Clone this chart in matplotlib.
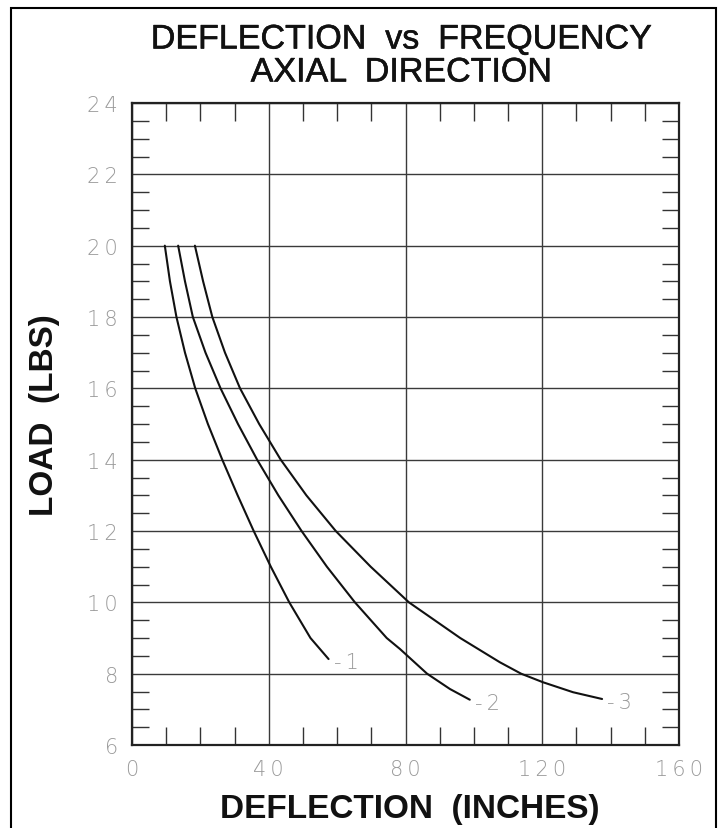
import matplotlib
matplotlib.use("Agg")
import matplotlib.pyplot as plt
import matplotlib.patheffects as pe
from matplotlib.patches import Rectangle
from matplotlib.ticker import MultipleLocator

# Data (deflection in inches, load in lbs)
c1_x = [9.6, 11.1, 13.0, 15.5, 18.5, 22.2, 26.4, 30.9, 35.6, 40.6, 46.0, 52.2, 57.5]
c1_y = [20, 19, 18, 17, 16, 15, 14, 13, 12, 11, 10, 9, 8.41]
c2_x = [13.5, 15.5, 17.8, 21.5, 25.9, 31.0, 36.6, 42.8, 49.6, 57.0, 65.2, 74.5, 78.4, 86.3, 93.0, 98.8]
c2_y = [20, 19, 18, 17, 16, 15, 14, 13, 12, 11, 10, 9, 8.69, 8, 7.57, 7.27]
c3_x = [18.4, 20.8, 23.5, 27.2, 31.6, 37.2, 43.5, 51.0, 59.6, 69.8, 81.0, 96.0, 107.6, 113.8, 120.2, 129.0, 137.5]
c3_y = [20, 19, 18, 17, 16, 15, 14, 13, 12, 11, 10, 9, 8.32, 8, 7.76, 7.48, 7.29]
curve_labels = ["-1", "-2", "-3"]

x_ticks = [0, 40, 80, 120, 160]
y_ticks = [6, 8, 10, 12, 14, 16, 18, 20, 22, 24]

W, H = 723, 829
fig = plt.figure(figsize=(W / 100, H / 100), dpi=100)
fig.patch.set_facecolor("white")

# outer frame
fig.add_artist(Rectangle((11 / W, -0.01), (716 - 11) / W, 1 - 9 / H + 0.01,
                         transform=fig.transFigure, fill=False,
                         edgecolor="black", linewidth=1.5))

ax = fig.add_axes([132 / W, 1 - 746 / H, (679 - 132) / W, (746 - 104) / H])
ax.set_xlim(0, 160)
ax.set_ylim(6, 24)

gridc = "#3a3a3a"
for s in ax.spines.values():
    s.set_linewidth(1.6)
    s.set_color("#222222")

ax.set_xticks(x_ticks)
ax.set_yticks(y_ticks)
ax.xaxis.set_minor_locator(MultipleLocator(10))
ax.yaxis.set_minor_locator(MultipleLocator(0.5))
ax.grid(True, which="major", color=gridc, linewidth=1.0)
ax.tick_params(which="major", length=0)
ax.tick_params(axis="x", which="minor", direction="in", length=13, width=1.0,
               color="#333333", top=True, bottom=True)
ax.tick_params(axis="y", which="minor", direction="in", length=12, width=1.0,
               color="#333333", left=True, right=True)

tick_font = dict(family="DejaVu Sans", fontsize=15, color="#9a9a9a", fontweight="light")
ax.set_xticklabels(["\u2009".join(str(v)) for v in x_ticks], **tick_font)
ax.set_yticklabels(["\u2009".join(str(v)) for v in y_ticks], **tick_font)
ax.tick_params(axis="x", which="major", pad=10)
ax.tick_params(axis="y", which="major", pad=10)

for xs, ys, lab in zip([c1_x, c2_x, c3_x], [c1_y, c2_y, c3_y], curve_labels):
    ax.plot(xs, ys, color="#111111", linewidth=1.5, solid_joinstyle="round",
            solid_capstyle="round")
    ax.text(xs[-1] + 1.5, ys[-1] - 0.08, "\u2009".join(lab), ha="left", va="center",
            **tick_font)

thick = [pe.withStroke(linewidth=0.4, foreground="#111111")]
title_font = dict(family="Liberation Sans", fontsize=24.5, color="#111111")
fig.text(401 / W, 1 - 41 / H, "DEFLECTION  vs  FREQUENCY", ha="center", va="center",
         path_effects=thick, **title_font)
fig.text(401 / W, 1 - 74 / H, "AXIAL  DIRECTION", ha="center", va="center",
         path_effects=thick, **title_font)

lab_font = dict(family="Liberation Sans", fontsize=24, fontweight="bold", color="#111111")
fig.text(410 / W, 1 - 810 / H, "DEFLECTION  (INCHES)", ha="center", va="center", **lab_font)
fig.text(45 / W, 1 - 415 / H, "LOAD  (LBS)", ha="center", va="center", rotation=90, **lab_font)

fig.savefig("out.png", dpi=100, facecolor="white")
